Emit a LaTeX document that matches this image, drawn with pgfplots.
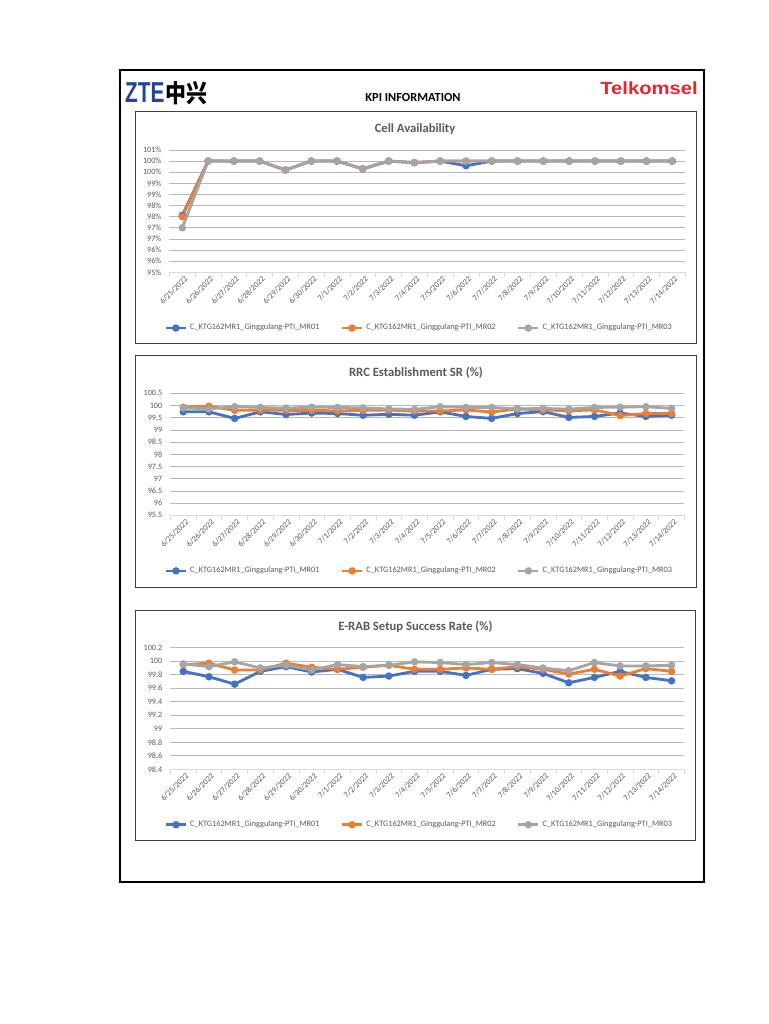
\documentclass[border=0pt]{standalone}
\usepackage{pgfplots}
\pgfplotsset{compat=1.18}
\usepackage{pgfplotstable}
\usepackage{fontspec}
\setmainfont{Carlito}
\newfontfamily\cjk{Noto Sans CJK SC}
\newfontfamily\lib{Liberation Sans}

\definecolor{mrblue}{HTML}{4472C4}
\definecolor{mrorange}{HTML}{ED7D31}
\definecolor{mrgray}{HTML}{A5A5A5}
\definecolor{gridc}{HTML}{D9D9D9}
\definecolor{txt}{HTML}{595959}
\definecolor{zteblue}{HTML}{24449A}
\definecolor{tsel}{HTML}{E8232B}

% i = day index (0 = 6/25/2022 ... 19 = 7/14/2022)
\pgfplotstableread{
i b o g
0 97.56 97.5 97.0
1 100 100 100
2 100 100 100
3 100 100 100
4 99.6 99.6 99.6
5 100 100 100
6 100 100 100
7 99.65 99.65 99.65
8 100 100 100
9 99.93 99.93 99.93
10 100 100 100
11 99.79 100 100
12 100 100 100
13 100 100 100
14 100 100 100
15 100 100 100
16 100 100 100
17 100 100 100
18 100 100 100
19 100 100 100
}\cellt

\pgfplotstableread{
i b o g
0 99.74 99.93 99.90
1 99.74 99.97 99.86
2 99.47 99.80 99.95
3 99.74 99.81 99.92
4 99.63 99.80 99.89
5 99.69 99.80 99.93
6 99.67 99.78 99.92
7 99.60 99.80 99.90
8 99.64 99.81 99.86
9 99.60 99.77 99.84
10 99.74 99.77 99.95
11 99.55 99.82 99.92
12 99.47 99.73 99.92
13 99.67 99.86 99.86
14 99.75 99.82 99.88
15 99.51 99.78 99.85
16 99.55 99.82 99.92
17 99.69 99.59 99.93
18 99.55 99.67 99.95
19 99.60 99.67 99.88
}\rrct

\pgfplotstableread{
i b o g
0 99.85 99.95 99.96
1 99.77 99.97 99.92
2 99.66 99.87 99.99
3 99.85 99.87 99.90
4 99.92 99.97 99.94
5 99.84 99.91 99.87
6 99.88 99.88 99.95
7 99.76 99.91 99.92
8 99.78 99.94 99.94
9 99.85 99.88 99.99
10 99.85 99.88 99.98
11 99.79 99.90 99.95
12 99.88 99.88 99.98
13 99.89 99.92 99.95
14 99.82 99.88 99.90
15 99.68 99.81 99.86
16 99.76 99.88 99.98
17 99.85 99.78 99.93
18 99.76 99.89 99.93
19 99.71 99.85 99.94
}\erabt

\pgfplotsset{
  kpi/.style={
    scale only axis,
    width=128.5mm, height=30.5mm,
    xmin=-0.5, xmax=19.5,
    xtick={0,...,19},
    xticklabels={6/25/2022,6/26/2022,6/27/2022,6/28/2022,6/29/2022,6/30/2022,7/1/2022,7/2/2022,7/3/2022,7/4/2022,7/5/2022,7/6/2022,7/7/2022,7/8/2022,7/9/2022,7/10/2022,7/11/2022,7/12/2022,7/13/2022,7/14/2022},
    minor xtick={-0.5,0.5,...,19.5},
    tick align=outside,
    major tick length=0pt,
    minor tick length=1.1mm,
    minor x tick style={draw=gridc, line width=0.5pt},
    axis x line*=bottom, axis y line*=left,
    x axis line style={draw=gridc, line width=0.6pt},
    y axis line style={draw=none},
    ytick style={draw=none},
    ymajorgrids,
    grid style={draw=gridc!85!black, line width=0.5pt},
    tick label style={font=\fontsize{5.8}{6.5}\selectfont, text=txt},
    xticklabel style={rotate=45, anchor=north east, inner sep=0.5pt, yshift=-0.6mm},
    yticklabel style={xshift=-0.8mm},
    clip=false,
    legend columns=3,
    legend style={draw=none, fill=none, at={(0.485,-0.456)}, anchor=center,
      font=\fontsize{5.9}{6.5}\selectfont, text=txt,
      /tikz/every even column/.append style={column sep=4.6mm}},
    legend image code/.code={
      \draw[mark repeat=2, mark phase=2, #1] plot coordinates {(0mm,0mm) (2.5mm,0mm) (5mm,0mm)};
    },
    every axis plot/.append style={line width=2pt, mark=*, mark size=1.6pt, mark options={solid}},
  },
}

\begin{document}
\begin{tikzpicture}[x=0.25mm, y=0.25mm]
\path[use as bounding box, fill=white] (0,0) rectangle (768,1024);

% page frame and header
\draw[black, line width=0.9pt] (120,954) rectangle (704,142);
\node[anchor=west, inner sep=0, text=zteblue, font=\lib\bfseries\fontsize{20.5}{21}\selectfont, xscale=0.72] at (125,931) {ZTE};
\node[anchor=west, inner sep=0, text=black, font=\cjk\bfseries\fontsize{17.5}{18}\selectfont, xscale=0.85] at (165,931) {中兴};
\node[font=\bfseries\fontsize{8.8}{10}\selectfont, text=black] at (413,926.5) {KPI INFORMATION};
\node[anchor=east, inner sep=0, text=tsel, font=\lib\bfseries\fontsize{12.5}{13}\selectfont, xscale=1.15] at (698,935.5) {Telkomsel};

% chart boxes
\draw[black!75, line width=0.7pt] (135,912) rectangle (696,680);
\draw[black!75, line width=0.7pt] (135,668) rectangle (696,437);
\draw[black!75, line width=0.7pt] (135,414) rectangle (695,184);

% titles
\node[font=\bfseries\fontsize{9}{10}\selectfont, text=txt] at (415,895) {Cell Availability};
\node[font=\bfseries\fontsize{9}{10}\selectfont, text=txt] at (416,651) {RRC Establishment SR (\%)};
\node[font=\bfseries\fontsize{9}{10}\selectfont, text=txt] at (415.5,397) {E-RAB Setup Success Rate (\%)};

% chart 1
\begin{axis}[kpi, at={(42.35mm,187.925mm)}, anchor=south west,
  width=128.95mm, height=30.575mm,
  ymin=95, ymax=100.5,
  ytick={95,95.5,96,96.5,97,97.5,98,98.5,99,99.5,100,100.5},
  yticklabels={95\%,96\%,96\%,97\%,97\%,98\%,98\%,99\%,99\%,100\%,100\%,101\%}]
\addplot[color=mrblue] table[x=i, y=b] {\cellt};
\addplot[color=mrorange] table[x=i, y=o] {\cellt};
\addplot[color=mrgray] table[x=i, y=g] {\cellt};
\legend{C\_KTG162MR1\_Ginggulang-PTI\_MR01, C\_KTG162MR1\_Ginggulang-PTI\_MR02, C\_KTG162MR1\_Ginggulang-PTI\_MR03}
\end{axis}

% chart 2
\begin{axis}[kpi, at={(42.6mm,127.175mm)}, anchor=south west,
  width=128.5mm, height=30.5mm,
  ymin=95.5, ymax=100.5,
  ytick={95.5,96,96.5,97,97.5,98,98.5,99,99.5,100,100.5},
  yticklabels={95.5,96,96.5,97,97.5,98,98.5,99,99.5,100,100.5}]
\addplot[color=mrblue] table[x=i, y=b] {\rrct};
\addplot[color=mrorange] table[x=i, y=o] {\rrct};
\addplot[color=mrgray] table[x=i, y=g] {\rrct};
\legend{C\_KTG162MR1\_Ginggulang-PTI\_MR01, C\_KTG162MR1\_Ginggulang-PTI\_MR02, C\_KTG162MR1\_Ginggulang-PTI\_MR03}
\end{axis}

% chart 3
\begin{axis}[kpi, at={(42.6mm,63.675mm)}, anchor=south west,
  width=128.5mm, height=30.4mm,
  ymin=98.4, ymax=100.2,
  ytick={98.4,98.6,98.8,99,99.2,99.4,99.6,99.8,100,100.2},
  yticklabels={98.4,98.6,98.8,99,99.2,99.4,99.6,99.8,100,100.2}]
\addplot[color=mrblue] table[x=i, y=b] {\erabt};
\addplot[color=mrorange] table[x=i, y=o] {\erabt};
\addplot[color=mrgray] table[x=i, y=g] {\erabt};
\legend{C\_KTG162MR1\_Ginggulang-PTI\_MR01, C\_KTG162MR1\_Ginggulang-PTI\_MR02, C\_KTG162MR1\_Ginggulang-PTI\_MR03}
\end{axis}
\end{tikzpicture}
\end{document}
